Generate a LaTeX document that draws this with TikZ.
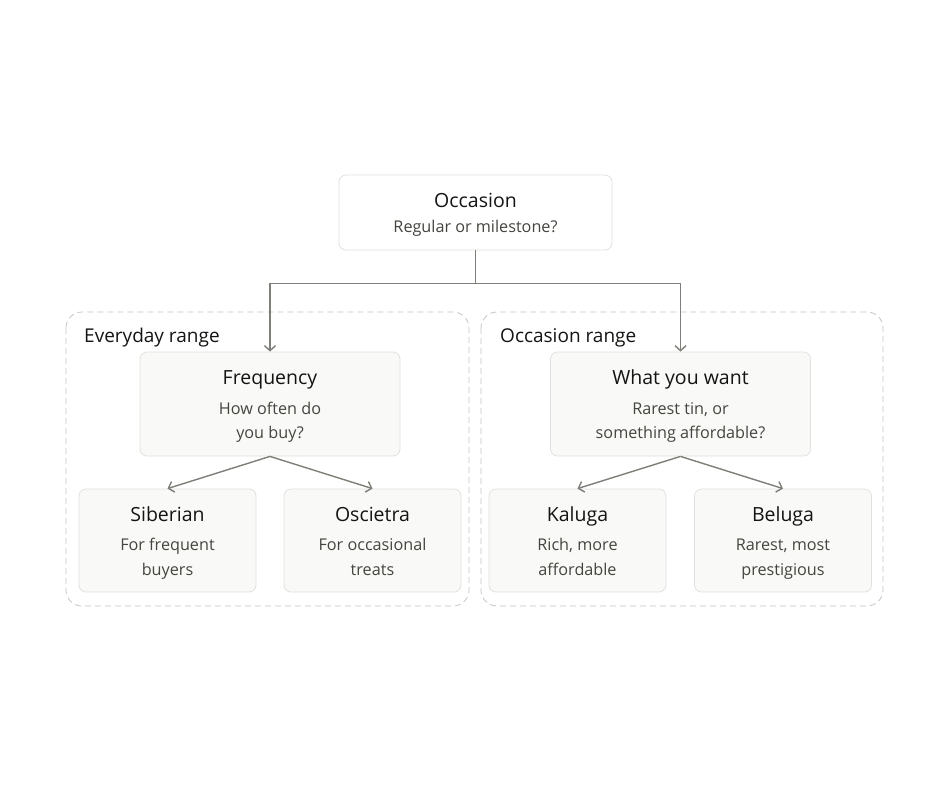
\documentclass[tikz,border=0pt]{standalone}
\usepackage{fontspec}
\setmainfont{Open Sans}
\usepackage{xcolor}
\usetikzlibrary{arrows.meta}
\definecolor{inkdark}{HTML}{141412}
\definecolor{inksoft}{HTML}{45453F}
\definecolor{boxline}{HTML}{E2E1DE}
\definecolor{boxfill}{HTML}{F9F9F7}
\definecolor{groupline}{HTML}{C6C6C4}
\definecolor{wire}{HTML}{7F7E78}
\newcommand{\ttl}[1]{{\fontsize{19.5}{24}\selectfont\color{inkdark}\rule{0pt}{19pt}\vphantom{Agy}#1}}
\newcommand{\dn}{\vphantom{gy}}
\begin{document}
\begin{tikzpicture}[
  x=1pt, y=-1pt,
  every node/.style={inner sep=0pt, align=center, text=inksoft,
    font=\fontsize{16.2}{24.5}\selectfont},
  card/.style={draw=boxline, fill=boxfill, rounded corners=7pt, line width=0.8pt},
  topcard/.style={card, fill=white, minimum width=273pt, minimum height=75pt},
  midcard/.style={card, minimum width=260pt, minimum height=104pt},
  leafcard/.style={card, minimum width=177pt, minimum height=103pt},
  group/.style={draw=groupline, dashed, dash pattern=on 6pt off 4pt, rounded corners=16pt, line width=0.8pt},
  grouplabel/.style={anchor=west, text=inkdark, font=\fontsize{19}{22}\selectfont},
  wire/.style={draw=wire, line width=1.4pt, -{Straight Barb[length=5pt, width=11pt]}}
]
\useasboundingbox (0,0) rectangle (940,788);
\fill[white] (0,0) rectangle (940,788);

% range groups
\draw[group] (66,312) rectangle (469,606);
\draw[group] (481,312) rectangle (883,606);
\node[grouplabel] (everyday) at (84,338) {Everyday range};
\node[grouplabel] (occrange) at (500,338) {Occasion range};

% cards
\node[topcard] (occ) at (475.5,212.5) {\ttl{Occasion}\\[0pt]Regular or milestone?\dn};
\node[midcard] (freq) at (270,404) {\ttl{Frequency}\\[5pt]How often do\\you buy?\dn};
\node[midcard] (want) at (680.5,404) {\ttl{What you want}\\[5pt]Rarest tin, or\\something affordable?\dn};
\node[leafcard] (sib) at (167.5,540.5) {\ttl{Siberian}\\[5pt]For frequent\\buyers\dn};
\node[leafcard] (osc) at (372.5,540.5) {\ttl{Oscietra}\\[5pt]For occasional\\treats\dn};
\node[leafcard] (kal) at (577.5,540.5) {\ttl{Kaluga}\\[5pt]Rich, more\\affordable\dn};
\node[leafcard] (bel) at (783,540.5) {\ttl{Beluga}\\[5pt]Rarest, most\\prestigious\dn};

% connectors
\draw[wire] (occ.south) -- ++(0,33) -| (freq.north);
\draw[wire] (occ.south) -- ++(0,33) -| (want.north);
\draw[wire] (freq.south) -- (sib.north);
\draw[wire] (freq.south) -- (osc.north);
\draw[wire] (want.south) -- (kal.north);
\draw[wire] (want.south) -- (bel.north);
\end{tikzpicture}
\end{document}
